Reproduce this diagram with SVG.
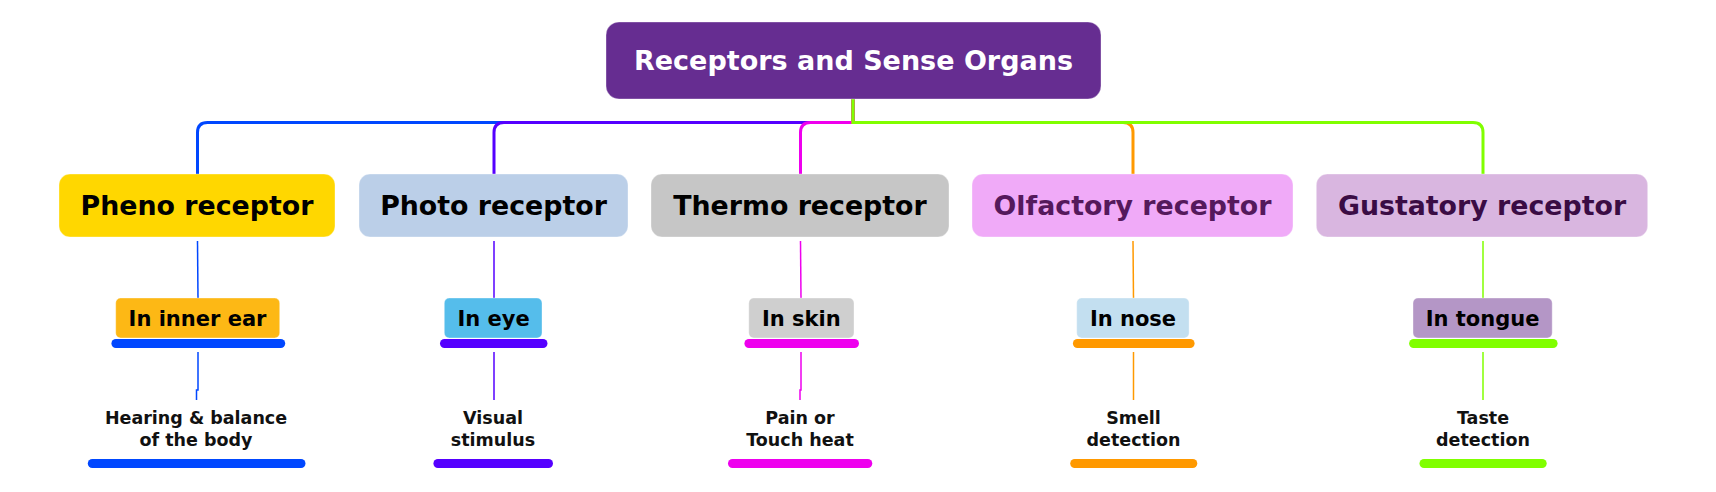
<svg xmlns="http://www.w3.org/2000/svg" width="1716" height="492" viewBox="0 0 1716 492">
<style>
text{font-family:"DejaVu Sans","Verdana",sans-serif;font-weight:bold;text-anchor:middle}
.root{font-size:27px;fill:#ffffff}
.l1{font-size:26.8px;fill:#000000}
.l2{font-size:21px;fill:#000000}
.l3{font-size:17.5px;fill:#111111}
.box{stroke:#ffffff;stroke-opacity:0.35;stroke-width:1}
.bus{fill:none;stroke-width:3;stroke-linecap:butt}
.thin{fill:none;stroke-width:1.5}
</style>
<rect width="1716" height="492" fill="#ffffff"/>
<g id="connectors">
  <path class="bus" stroke="#0047ff" d="M853 99V122.5H207.5Q197.5 122.5 197.5 132.5V174"/>
  <path class="bus" stroke="#5500ff" d="M853 99V122.5H504Q494 122.5 494 132.5V174"/>
  <path class="bus" stroke="#ee00ee" d="M853 99V122.5H810.5Q800.5 122.5 800.5 132.5V174"/>
  <path class="bus" stroke="#ff9900" d="M853 99V122.5H1123Q1133 122.5 1133 132.5V174"/>
  <path class="bus" stroke="#80ff00" d="M853 99V122.5H1473Q1483 122.5 1483 132.5V174"/>
  <path class="thin" stroke="#0047ff" d="M197.5 241L198 298"/>
  <path class="thin" stroke="#5500ff" d="M494 241V298"/>
  <path class="thin" stroke="#ee00ee" d="M800.5 241L801 298"/>
  <path class="thin" stroke="#ff9900" d="M1133 241L1133.5 298"/>
  <path class="thin" stroke="#80ff00" d="M1483 241V298"/>
  <path class="thin" stroke="#0047ff" d="M198 352V390H196.5V400"/>
  <path class="thin" stroke="#5500ff" d="M494 352V400"/>
  <path class="thin" stroke="#ee00ee" d="M801 352V390H800V400"/>
  <path class="thin" stroke="#ff9900" d="M1133.5 352V400"/>
  <path class="thin" stroke="#80ff00" d="M1483 352V400"/>
</g>
<g id="root">
  <rect class="box" x="606" y="22" width="495" height="77" rx="13" fill="#662d91"/>
  <text class="root" x="853.5" y="70">Receptors and Sense Organs</text>
</g>
<g id="pheno">
  <rect class="box" x="59" y="174" width="276" height="63" rx="11" fill="#ffd700"/>
  <text class="l1" x="197" y="215">Pheno receptor</text>
</g>
<g id="photo">
  <rect class="box" x="359" y="174" width="269" height="63" rx="11" fill="#bbcfe8"/>
  <text class="l1" x="493.5" y="215">Photo receptor</text>
</g>
<g id="thermo">
  <rect class="box" x="651" y="174" width="298" height="63" rx="11" fill="#c6c6c6"/>
  <text class="l1" x="800" y="215">Thermo receptor</text>
</g>
<g id="olfactory">
  <rect class="box" x="972" y="174" width="321" height="63" rx="11" fill="#f0aaf8"/>
  <text class="l1" x="1132.5" y="215" style="fill:#55195c">Olfactory receptor</text>
</g>
<g id="gustatory">
  <rect class="box" x="1316.3" y="174" width="331.4" height="63" rx="11" fill="#d9b6e0"/>
  <text class="l1" x="1482" y="215" style="fill:#3a0c44">Gustatory receptor</text>
</g>
<g id="inner-ear">
  <rect class="box" x="115.7" y="298" width="164" height="40" rx="5" fill="#fdb815"/>
  <rect x="111.4" y="339" width="173.8" height="9" rx="4.5" fill="#0047ff"/>
  <text class="l2" x="197.5" y="326">In inner ear</text>
</g>
<g id="eye">
  <rect class="box" x="444.3" y="298" width="97.7" height="40" rx="5" fill="#55bdeb"/>
  <rect x="440" y="339" width="107.5" height="9" rx="4.5" fill="#5500ff"/>
  <text class="l2" x="493.5" y="326">In eye</text>
</g>
<g id="skin">
  <rect class="box" x="748.8" y="298" width="105.2" height="40" rx="5" fill="#cfcfcf"/>
  <rect x="744.4" y="339" width="114.6" height="9" rx="4.5" fill="#ee00ee"/>
  <text class="l2" x="801.4" y="326">In skin</text>
</g>
<g id="nose">
  <rect class="box" x="1076.7" y="298" width="112.4" height="40" rx="5" fill="#c3dff0"/>
  <rect x="1072.9" y="339" width="121.7" height="9" rx="4.5" fill="#ff9900"/>
  <text class="l2" x="1133" y="326">In nose</text>
</g>
<g id="tongue">
  <rect class="box" x="1413" y="298" width="139.2" height="40" rx="5" fill="#b496c6"/>
  <rect x="1409.1" y="339" width="148.5" height="9" rx="4.5" fill="#80ff00"/>
  <text class="l2" x="1482.6" y="326">In tongue</text>
</g>
<g id="hearing">
  <text class="l3" x="196" y="424">Hearing &amp; balance</text>
  <text class="l3" x="196" y="446">of the body</text>
  <rect x="87.8" y="459" width="217.7" height="9" rx="4.5" fill="#0047ff"/>
</g>
<g id="visual">
  <text class="l3" x="493" y="424">Visual</text>
  <text class="l3" x="493" y="446">stimulus</text>
  <rect x="433.4" y="459" width="119.6" height="9" rx="4.5" fill="#5500ff"/>
</g>
<g id="pain">
  <text class="l3" x="800" y="424">Pain or</text>
  <text class="l3" x="800" y="446">Touch heat</text>
  <rect x="728" y="459" width="144.3" height="9" rx="4.5" fill="#ee00ee"/>
</g>
<g id="smell">
  <text class="l3" x="1133.5" y="424">Smell</text>
  <text class="l3" x="1133.5" y="446">detection</text>
  <rect x="1070.2" y="459" width="127.1" height="9" rx="4.5" fill="#ff9900"/>
</g>
<g id="taste">
  <text class="l3" x="1483" y="424">Taste</text>
  <text class="l3" x="1483" y="446">detection</text>
  <rect x="1419.5" y="459" width="127.2" height="9" rx="4.5" fill="#80ff00"/>
</g>
</svg>
